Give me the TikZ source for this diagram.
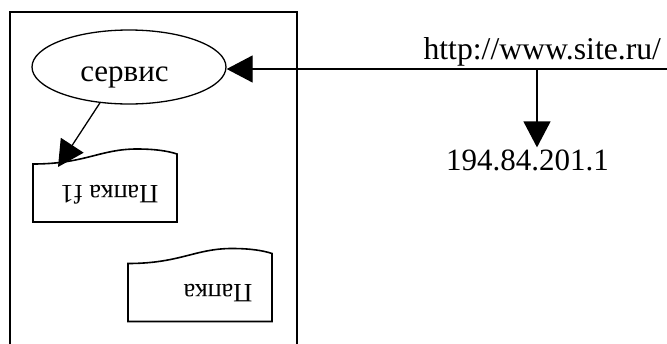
\documentclass[tikz,border=0pt]{standalone}
\usepackage{fontspec}
\setmainfont{Liberation Serif}
\usetikzlibrary{shapes.geometric,arrows.meta}
\begin{document}
\begin{tikzpicture}[x=1pt,y=-1pt,
  arr/.style={line width=1.3pt, -{Triangle[length=26pt,width=27pt]}},
  big/.style={font=\fontsize{31}{36}\selectfont, inner sep=0pt, outer sep=0pt},
  fold/.style={font=\fontsize{26.5}{30}\selectfont, inner sep=0pt, rotate=180, anchor=base},
  shp/.style={line width=1.6pt, line join=miter}]
\useasboundingbox (0,0) rectangle (667,343);
% outer frame
\draw[line width=2pt] (9.5,350) -- (9.5,12.3) -- (297,12.3) -- (297,350);
% service ellipse
\node[ellipse, draw, line width=1.3pt, minimum width=194pt, minimum height=74pt, inner sep=0pt] (srv) at (129,67) {};
\node[big, anchor=base] (srvt) at (124.5,81.7) {сервис};
% folders
\draw[shp] (33,164) .. controls (85,164) and (100,149) .. (137,149) .. controls (155,149) and (168,151) .. (177,154) -- (177,222) -- (33,222) -- cycle;
\draw[shp] (128,263.5) .. controls (180,263.5) and (195,248.5) .. (232,248.5) .. controls (250,248.5) and (263,250.5) .. (272,253.5) -- (272,321.5) -- (128,321.5) -- cycle;
\node[fold] (f1) at (109.5,185) {Папка f1};
\node[fold] (f2) at (218,284) {Папка};
% url and ip
\coordinate (r) at (667,69);
\coordinate (v) at (537,69);
\node[big, font=\fontsize{31.7}{36}\selectfont, anchor=base east] (url) at (661,59) {http://www.site.ru/};
\node[big, anchor=base] (ip) at (527.5,170) {194.84.201.1};
\coordinate (t1) at (58,167);
% connectors
\draw[arr] (r) -- (r -| srv.east);
\draw[arr] (v) -- ([yshift=2pt]v |- ip.north);
\draw[arr] (srv.231) -- (t1);
\end{tikzpicture}
\end{document}
